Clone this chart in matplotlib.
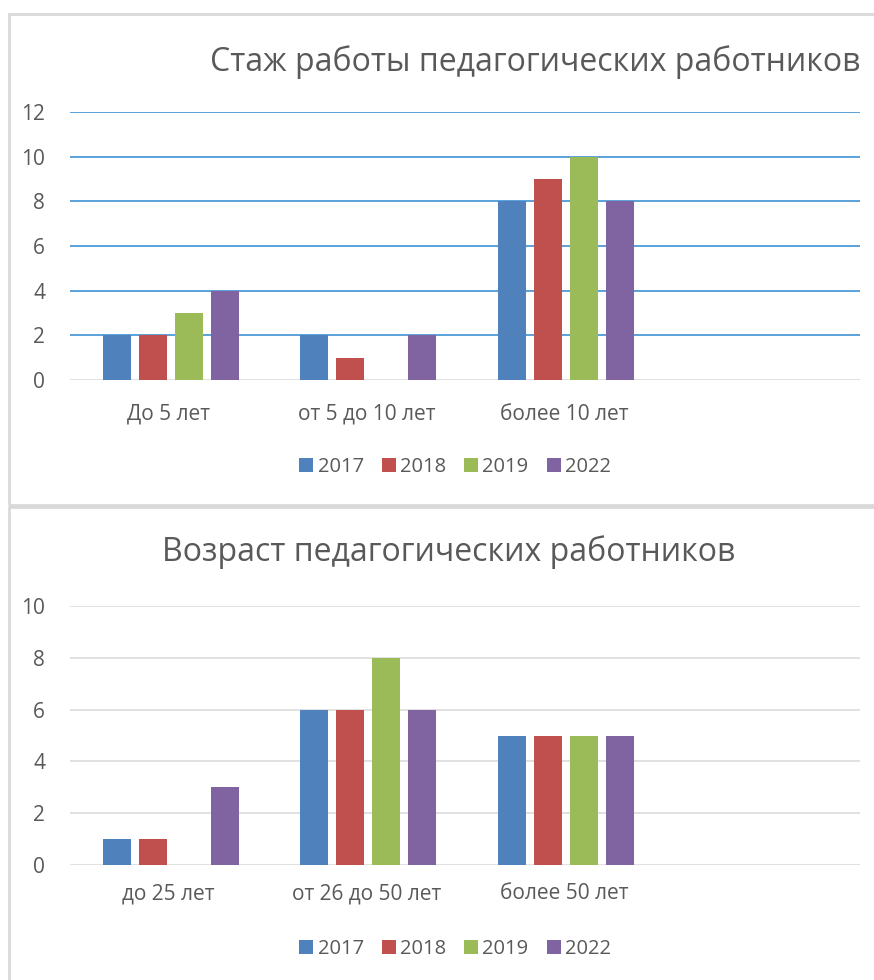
import matplotlib
matplotlib.use("Agg")
import matplotlib.pyplot as plt
from matplotlib.patches import Rectangle
import numpy as np

plt.rcParams['font.family'] = ['Open Sans', 'DejaVu Sans']

years = ["2017", "2018", "2019", "2022"]
colors = ["#4F81BD", "#C0504D", "#9BBB59", "#8064A2"]

title_top = "Стаж работы педагогических работников"
cats_top = ["До 5 лет", "от 5 до 10 лет", "более 10 лет"]
top_2017 = [2, 2, 8]
top_2018 = [2, 1, 9]
top_2019 = [3, 0, 10]
top_2022 = [4, 2, 8]

title_bot = "Возраст педагогических работников"
cats_bot = ["до 25 лет", "от 26 до 50 лет", "более 50 лет"]
bot_2017 = [1, 6, 5]
bot_2018 = [1, 6, 5]
bot_2019 = [0, 8, 5]
bot_2022 = [3, 6, 5]

W, H = 874, 980
fig = plt.figure(figsize=(W / 100, H / 100), dpi=100)

def fx(px):
    return px / W

def fy(py):
    return 1 - py / H

# panel frames
border = "#D9D9D9"
fig.patches.append(Rectangle((fx(9), fy(505)), fx(880) - fx(9), fy(14) - fy(505),
                             transform=fig.transFigure, fill=False, edgecolor=border, lw=2))
fig.patches.append(Rectangle((fx(9), fy(990)), fx(880) - fx(9), fy(507) - fy(990),
                             transform=fig.transFigure, fill=False, edgecolor=border, lw=2))

def panel(ax_box, cats, series, ymax, grid_color, title, title_xy, legend_y, xpad):
    l, t, r, b = ax_box
    ax = fig.add_axes([fx(l), fy(b), fx(r) - fx(l), fy(t) - fy(b)])
    n = len(series)
    x = np.arange(len(cats))
    step = 0.182
    width = 0.142
    for k, (vals, c, lab) in enumerate(zip(series, colors, years)):
        ax.bar(x + 0.01 + (k - (n - 1) / 2) * step, vals, width, color=c, label=lab, zorder=3)
    ax.set_xlim(-0.5, 3.5)
    ax.set_ylim(0, ymax)
    ax.set_yticks(np.arange(0, ymax + 1, 2))
    ax.set_xticks(x)
    ax.set_xticklabels(cats)
    for s in ax.spines.values():
        s.set_visible(False)
    ax.tick_params(length=0, colors="#595959", labelsize=15)
    ax.tick_params(axis="y", pad=18)
    ax.tick_params(axis="x", pad=xpad)
    for yv in np.arange(2, ymax + 1, 2):
        ax.axhline(yv, color=grid_color, lw=1.1, zorder=1)
    ax.axhline(0, color="#D9D9D9", lw=1.1, zorder=1)
    fig.text(fx(title_xy[0]), fy(title_xy[1]), title, ha="center", va="center",
             fontsize=23, color="#595959")
    handles, labels = ax.get_legend_handles_labels()
    fig.legend(handles, labels, loc="center", bbox_to_anchor=(fx(455), fy(legend_y)),
               ncol=4, frameon=False, fontsize=14.5, handlelength=0.7, handleheight=0.7,
               handletextpad=0.2, columnspacing=0.9, labelcolor="#595959")
    return ax

panel((70, 112, 860, 380), cats_top, [top_2017, top_2018, top_2019, top_2022], 12,
      "#2F88D1", title_top, (535, 62), 467, 17)
panel((70, 606, 860, 865), cats_bot, [bot_2017, bot_2018, bot_2019, bot_2022], 10,
      "#D9D9D9", title_bot, (449, 552), 949, 13)

fig.savefig("out.png", dpi=100, facecolor="white")
